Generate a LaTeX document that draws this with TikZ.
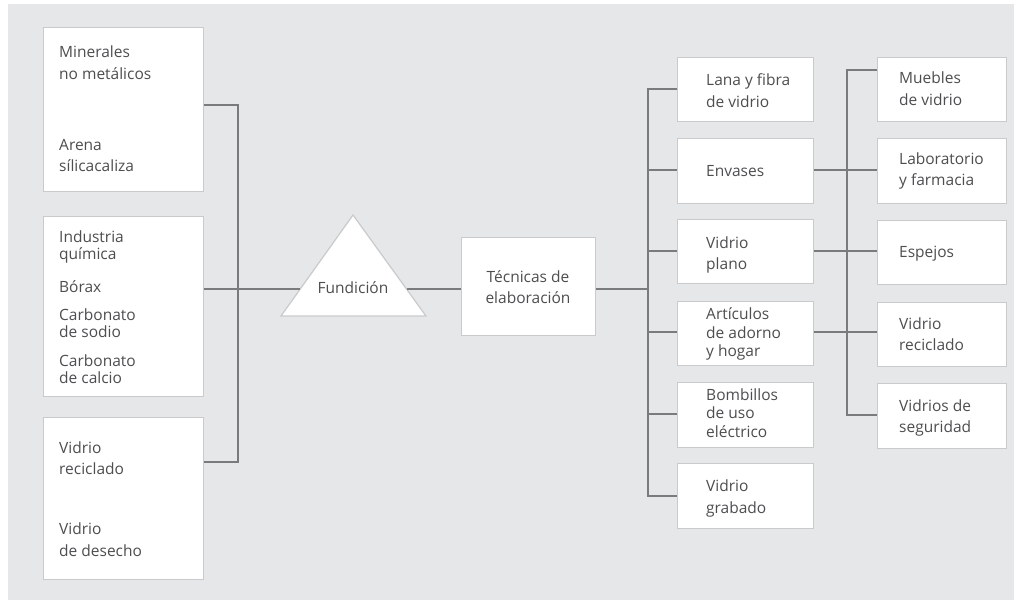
\documentclass[tikz,border=0pt]{standalone}
\usepackage{fontspec}
\setmainfont{Open Sans}
\definecolor{bggray}{HTML}{E6E7E9}
\definecolor{boxline}{HTML}{C9CACC}
\definecolor{conn}{HTML}{7A7B7D}
\definecolor{txt}{HTML}{4E4E50}
\begin{document}
\begin{tikzpicture}[x=1pt,y=-1pt,
  box/.style={draw=boxline,line width=1.2pt,fill=white,inner sep=0pt,anchor=north west},
  lbl/.style={anchor=base west,inner sep=0pt,text=txt,font=\fontsize{15.5}{18}\selectfont},
  clbl/.style={anchor=base,inner sep=0pt,text=txt,font=\fontsize{15.5}{18}\selectfont},
  conline/.style={draw=conn,line width=1.3pt}]
\useasboundingbox (0,0) rectangle (1014,600);
\fill[white] (0,0) rectangle (1014,600);
\fill[bggray] (8,4) rectangle (1014,600);

% left boxes
\node[box,minimum width=160pt,minimum height=164pt] (b1) at (43,27) {};
\node[box,minimum width=160pt,minimum height=180pt] (b2) at (43,216) {};
\node[box,minimum width=160pt,minimum height=162pt] (b3) at (43,417) {};
\node[lbl] (t11) at (59,57) {Minerales};
\node[lbl] (t12) at (59,79) {no metálicos};
\node[lbl] (t13) at (59,150) {Arena};
\node[lbl] (t14) at (59,171) {sílicacaliza};
\node[lbl] (t21) at (59,242) {Industria};
\node[lbl] (t22) at (59,259) {química};
\node[lbl] (t23) at (59,292) {Bórax};
\node[lbl] (t24) at (59,320) {Carbonato};
\node[lbl] (t25) at (59,337) {de sodio};
\node[lbl] (t26) at (59,366) {Carbonato};
\node[lbl] (t27) at (59,383) {de calcio};
\node[lbl] (t31) at (59,453) {Vidrio};
\node[lbl] (t32) at (59,474) {reciclado};
\node[lbl] (t33) at (59,534) {Vidrio};
\node[lbl] (t34) at (59,556) {de desecho};

\coordinate (ltop) at (238,105);
\coordinate (lmid) at (238,289);
\coordinate (lbot) at (238,462);
\draw[conline] (b1.east |- ltop) -- (ltop) -- (lbot) -- (b3.east |- lbot);

% triangle
\coordinate (ta) at (353,215);
\coordinate (tl) at (281,316);
\coordinate (tr) at (426,316);
\draw[draw=boxline,line width=1.2pt,fill=white] (ta) -- (tr) -- (tl) -- cycle;
\node[clbl] (fund) at (353,293) {Fundición};
\coordinate (tle) at (300,289);
\coordinate (tre) at (407,289);
\draw[conline] (b2.east |- lmid) -- (tle);

% tecnicas
\node[box,minimum width=134pt,minimum height=98pt] (tec) at (461,237) {};
\node[clbl] (tec1) at (528,282) {Técnicas de};
\node[clbl] (tec2) at (528,303) {elaboración};
\draw[conline] (tre) -- (tec.west |- tre);

% middle column
\node[box,minimum width=136pt,minimum height=64pt] (m1) at (677,57) {};
\node[box,minimum width=136pt,minimum height=65pt] (m2) at (677,138) {};
\node[box,minimum width=136pt,minimum height=64pt] (m3) at (677,219) {};
\node[box,minimum width=136pt,minimum height=64pt] (m4) at (677,301) {};
\node[box,minimum width=136pt,minimum height=65pt] (m5) at (677,382) {};
\node[box,minimum width=136pt,minimum height=65pt] (m6) at (677,463) {};
\node[lbl] (tm11) at (706,85) {Lana y fibra};
\node[lbl] (tm12) at (706,107) {de vidrio};
\node[lbl] (tm21) at (706,176) {Envases};
\node[lbl] (tm31) at (706,248) {Vidrio};
\node[lbl] (tm32) at (706,269) {plano};
\node[lbl] (tm41) at (706,319) {Artículos};
\node[lbl] (tm42) at (706,338) {de adorno};
\node[lbl] (tm43) at (706,356) {y hogar};
\node[lbl] (tm51) at (706,400) {Bombillos};
\node[lbl] (tm52) at (706,418) {de uso};
\node[lbl] (tm53) at (706,437) {eléctrico};
\node[lbl] (tm61) at (706,491) {Vidrio};
\node[lbl] (tm62) at (706,513) {grabado};

\coordinate (mt1) at (648,89);
\coordinate (mt2) at (648,170);
\coordinate (mt3) at (648,251);
\coordinate (mtc) at (648,289);
\coordinate (mt4) at (648,332);
\coordinate (mt5) at (648,414);
\coordinate (mt6) at (648,496);
\draw[conline] (tec.east |- mtc) -- (mtc);
\draw[conline] (m1.west |- mt1) -- (mt1) -- (mt6) -- (m6.west |- mt6);
\draw[conline] (mt2) -- (m2.west |- mt2);
\draw[conline] (mt3) -- (m3.west |- mt3);
\draw[conline] (mt4) -- (m4.west |- mt4);
\draw[conline] (mt5) -- (m5.west |- mt5);

% right column
\node[box,minimum width=129pt,minimum height=64pt] (r1) at (877,57) {};
\node[box,minimum width=129pt,minimum height=65pt] (r2) at (877,138) {};
\node[box,minimum width=129pt,minimum height=64pt] (r3) at (877,220) {};
\node[box,minimum width=129pt,minimum height=64pt] (r4) at (877,302) {};
\node[box,minimum width=129pt,minimum height=65pt] (r5) at (877,383) {};
\node[lbl] (tr11) at (899,83) {Muebles};
\node[lbl] (tr12) at (899,105) {de vidrio};
\node[lbl] (tr21) at (899,164) {Laboratorio};
\node[lbl] (tr22) at (899,185) {y farmacia};
\node[lbl] (tr31) at (899,257) {Espejos};
\node[lbl] (tr41) at (899,329) {Vidrio};
\node[lbl] (tr42) at (899,350) {reciclado};
\node[lbl] (tr51) at (899,411) {Vidrios de};
\node[lbl] (tr52) at (899,432) {seguridad};

\coordinate (rt1) at (847,70);
\coordinate (rt5) at (847,415);
\draw[conline] (r1.west |- rt1) -- (rt1) -- (rt5) -- (r5.west |- rt5);
\draw[conline] (m2.east |- mt2) -- (r2.west |- mt2);
\draw[conline] (m3.east |- mt3) -- (r3.west |- mt3);
\draw[conline] (m4.east |- mt4) -- (r4.west |- mt4);
\end{tikzpicture}
\end{document}
